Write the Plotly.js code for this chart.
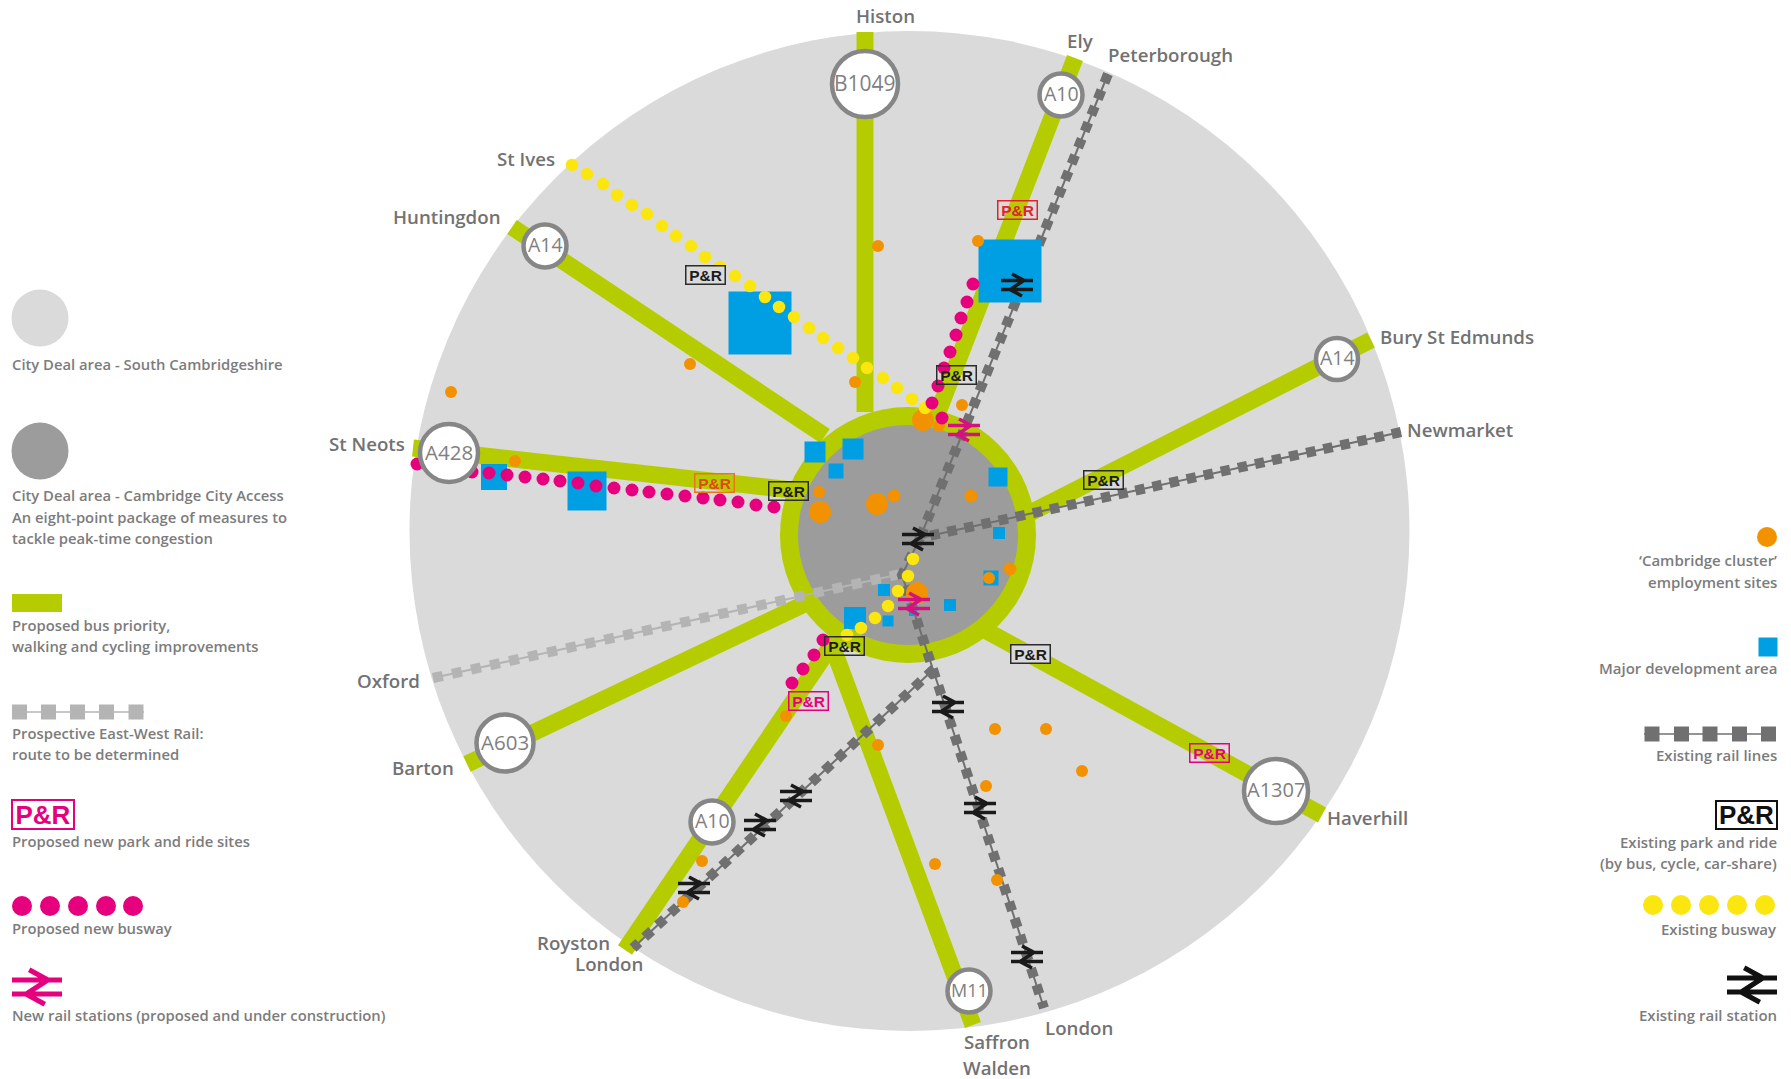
<!DOCTYPE html>
<html><head><meta charset="utf-8">
<script src="https://cdn.plot.ly/plotly-3.0.1.min.js"></script>
<style>html,body{margin:0;padding:0;background:#fff}#c{width:1791px;height:1079px}</style>
</head><body><div id="c"></div>
<script>
const GREEN='#b5cd00',BLUE='#009fe3',ORANGE='#f39200',PINK='#e6007e',YELLOW='#fbe60f',
 RAIL='#707070',EW='#b4b4b4',LIGHT='#dadada',DARK='#9c9c9c',TXT='#7c7c7c';

// Routes
const roadNames=['Histon','Ely','Huntingdon','St Neots','Bury St Edmunds','Haverhill','Saffron Walden','Royston','Barton'];
const roadX=[[865,865],[1075,935],[512,825],[413,792],[1371,1030],[1322,985],[973,830],[625,835],[467,815]];
const roadY=[[32,412],[58,420],[227,436],[448,490],[340,513],[815,630],[1025,640],[950,640],[764,599]];
const railNames=['Peterborough','Newmarket','London','Royston London'];
const railX=[[1108,920],[1401,920],[920,902,1044],[934,633]];
const railY=[[74,538],[432,538],[538,575,1008],[669,948]];
const ewX=[433,905];
const ewY=[678,573];

// Existing busway
const yellowX=[572,587,603,617,632,647,662,676,691,705,720,735,750,765,779,794,809,823,838,853,867,883,897,912,925,847,861,875,888,898,908,913];
const yellowY=[165,174,184,195,205,214,226,236,246,257,267,276,286,297,307,317,328,338,348,358,368,378,388,399,408,635,628,618,606,591,576,559];
// Proposed busway
const pinkX=[417,436,454,472,489,507,525,543,560,578,596,614,632,649,667,685,703,720,738,756,774,973,967,961,956,950,944,938,932,942,823,814,803,792];
const pinkY=[464,467,470,472,473,475,477,479,481,483,486,488,490,492,494,496,498,500,502,505,507,284,302,318,335,352,368,386,403,418,640,655,669,683];

// Employment sites
const orangeX=[923,939,855,962,819,820,877,894,971,989,1010,917,878,978,690,451,515,786,878,995,1046,1082,986,935,997,702,683];
const orangeY=[420,426,382,405,492,512,504,496,496,578,569,593,246,241,364,392,461,716,745,729,729,771,786,864,880,861,902];
const orangeS=[22,12,12,12,12,22,22,13,13,12,13,22,12,12,12,12,12,12,12,12,12,12,12,12,12,12,12];
// Development areas
const blueX=[815,853,836,998,999,991,884,855,888,950,913,760,1010,494,587];
const blueY=[452,449,471,477,533,578,590,618,621,605,612,323,271,477,491];
const blueS=[21,21,15,19,12,15,12,22,11,12,8,63,63,26,39];

// Road shields
const shieldT=['B1049','A10','A14','A428','A14','A1307','M11','A10','A603'];
const shieldX=[865,1061,545,449,1337,1276,969,712,505];
const shieldY=[84,95,246,453,359,791,991,822,743];
const shieldS=[66,43,43,58,42,64,43,43,57];
const shieldF=[21,19.5,19.5,20.5,19.5,20,18,19.5,20.5];

// Stations
const blackX=[1017,918,948,980,1027,796,760,694];
const blackY=[285,539,707,808,957,796,825,888];
const magentaX=[964,914];
const magentaY=[430,604];

// Park and ride
const prOldX=[705,956,788,1030,844,1103];
const prOldY=[275,375,491,654,646,480];
const prOldBg=['#dadada','rgba(0,0,0,0)','rgba(0,0,0,0)','#dadada','rgba(0,0,0,0)','rgba(0,0,0,0)'];
const prNewX=[1017,714,808,1209];
const prNewY=[210,483,701,753];
const prNewC=['#e3222d','#e0480f','#e6007e','#e6007e'];
const prNewB=['#e3222d','#e8751a','#e6007e','#e6007e'];

// Labels
const placeT=['Histon','Ely','Peterborough','St Ives','Huntingdon','Bury St Edmunds','Newmarket','St Neots','Oxford','Barton','Haverhill','Royston','London','London','Saffron','Walden'];
const placeX=[885,1080,1170,526,447,1457,1460,367,388,423,1367,573,609,1079,997,997];
const placeY=[15.5,40.5,54.5,158.5,216.5,336,429.5,443,680.5,767,817.5,942.5,963.5,1027.5,1041.5,1067.5];

// Legend
const legL=['City Deal area - South Cambridgeshire','City Deal area - Cambridge City Access','An eight-point package of measures to','tackle peak-time congestion','Proposed bus priority,','walking and cycling improvements','Prospective East-West Rail:','route to be determined','Proposed new park and ride sites','Proposed new busway','New rail stations (proposed and under construction)'];
const legLY=[364,495,516.5,538,625,646,732.5,754,841,928,1015];
const legR=['\u2018Cambridge cluster\u2019','employment sites','Major development area','Existing rail lines','Existing park and ride','(by bus, cycle, car-share)','Existing busway','Existing rail station'];
const legRY=[560,582,668,755,842,863,929,1015];
const legAreaX=[40,40];const legAreaY=[318,451];const legAreaS=[57,57];const legAreaC=[LIGHT,DARK];
const legEwX=[19.5,48.5,77.5,106.5,136];const legEwY=[712,712,712,712,712];
const legRailX=[1652,1681.5,1710,1739.5,1768.5];const legRailY=[734,734,734,734,734];
const legPinkX=[22,50,78,106,133];const legPinkY=[906,906,906,906,906];
const legYellowX=[1653,1681,1709,1737,1765];const legYellowY=[905,905,905,905,905];

const line=(x,y,color,width,dash)=>({type:'scatter',mode:'lines',x,y,hoverinfo:'skip',line:{color,width,dash:dash||'solid'}});
const pts=(x,y,color,size,symbol)=>({type:'scatter',mode:'markers',x,y,hoverinfo:'skip',
  marker:{color,size,opacity:1,symbol:symbol||'circle',line:{width:0}}});

const traces=[];
traces.push(pts([909.5],[531],LIGHT,1000));
roadX.forEach((x,i)=>traces.push(line(x,roadY[i],GREEN,17)));
traces.push(pts([908],[535],GREEN,256));
traces.push(pts([908],[535],DARK,220));
traces.push(line(ewX,ewY,EW,2));
traces.push(line(ewX,ewY,EW,10,'10px,9.5px'));
railX.forEach((x,i)=>{traces.push(line(x,railY[i],RAIL,2));traces.push(line(x,railY[i],RAIL,10,'9.5px,8px'));});
traces.push(pts(blueX,blueY,BLUE,blueS,'square'));
traces.push(pts(orangeX,orangeY,ORANGE,orangeS));
traces.push(pts(yellowX,yellowY,YELLOW,12.5));
traces.push(pts(pinkX,pinkY,PINK,13));
traces.push({type:'scatter',mode:'markers',x:shieldX,y:shieldY,hoverinfo:'skip',
  marker:{size:shieldS,color:'#ffffff',opacity:1,line:{color:'#868686',width:4.5}}});
// legend marks
traces.push(pts(legAreaX,legAreaY,legAreaC,legAreaS));
traces.push(line([12,62],[603,603],GREEN,18));
traces.push(line([12,144],[712,712],EW,1.5));
traces.push(pts(legEwX,legEwY,EW,15,'square'));
traces.push(line([1644,1776],[734,734],RAIL,1.5));
traces.push(pts(legRailX,legRailY,RAIL,15,'square'));
traces.push(pts(legPinkX,legPinkY,PINK,20));
traces.push(pts(legYellowX,legYellowY,YELLOW,20));
traces.push(pts([1767],[537],ORANGE,20));
traces.push(pts([1768],[647],BLUE,19,'square'));

// double-arrow station symbol, drawn in pixels round an anchor in data coordinates
function station(x,y,color,w,lw){
  const k=w/32;const f=v=>(v*k).toFixed(2);
  const p=`M${f(-16)},${f(4.5)} H${f(16)} M${f(-16)},${f(-4.5)} H${f(16)} `+
          `M${f(-5)},${f(11)} L${f(7)},${f(4.5)} L${f(-7)},${f(-4.5)} L${f(5)},${f(-11)}`;
  return {type:'path',path:p,xref:'x',yref:'y',xsizemode:'pixel',ysizemode:'pixel',xanchor:x,yanchor:y,
    line:{color,width:lw},layer:'above'};
}
const shapes=[];
blackX.forEach((x,i)=>shapes.push(station(x,blackY[i],'#1a1a1a',32,3.5)));
magentaX.forEach((x,i)=>shapes.push(station(x,magentaY[i],'#d6107f',32,3.5)));
shapes.push(station(37,987,PINK,50,5));
shapes.push(station(1752,985,'#111111',50,5));

const ann=[];
const note=(x,y,text,anchor,font)=>ann.push({x,y,xref:'x',yref:'y',text,showarrow:false,xanchor:anchor,yanchor:'middle',font});
const legendFontL={family:'Open Sans',size:14.8,color:TXT,weight:600};
const legendFontR={family:'Open Sans',size:15,color:TXT,weight:600};
legL.forEach((t,i)=>note(10,legLY[i],t,'left',legendFontL));
legR.forEach((t,i)=>note(1779,legRY[i],t,'right',legendFontR));
placeT.forEach((t,i)=>note(placeX[i],placeY[i],t,'center',{family:'Open Sans',size:18.7,color:'#727272',weight:600}));
shieldT.forEach((t,i)=>note(shieldX[i],shieldY[i]-1.5,t,'center',{family:'Open Sans',size:shieldF[i],color:'#808080',weight:500}));
const prBox=(x,y,color,border,bg,w,h,size,bw,weight)=>ann.push({x,y,xref:'x',yref:'y',text:'P&amp;R',showarrow:false,
  width:w,height:h,borderpad:0,borderwidth:bw,bordercolor:border,bgcolor:bg,xanchor:'center',yanchor:'middle',
  font:{family:'Liberation Sans',size,color,weight}});
prOldX.forEach((x,i)=>prBox(x,prOldY[i],'#1c1c1c','#2b2b2b',prOldBg[i],38,17,15.5,1.5,700));
prNewX.forEach((x,i)=>prBox(x,prNewY[i],prNewC[i],prNewB[i],'rgba(0,0,0,0)',38,17,15.5,1.5,700));
prBox(43,814,PINK,PINK,'rgba(0,0,0,0)',60,27,26,2,700);
prBox(1746,815,'#111111','#111111','rgba(0,0,0,0)',59,26,26,2,700);

Plotly.newPlot('c',traces,{
  width:1791,height:1079,margin:{l:0,r:0,t:0,b:0},showlegend:false,
  paper_bgcolor:'#ffffff',plot_bgcolor:'#ffffff',
  xaxis:{range:[0,1791],visible:false,fixedrange:true},
  yaxis:{range:[1079,0],visible:false,fixedrange:true},
  shapes,annotations:ann
},{displayModeBar:false,staticPlot:true});
</script></body></html>
